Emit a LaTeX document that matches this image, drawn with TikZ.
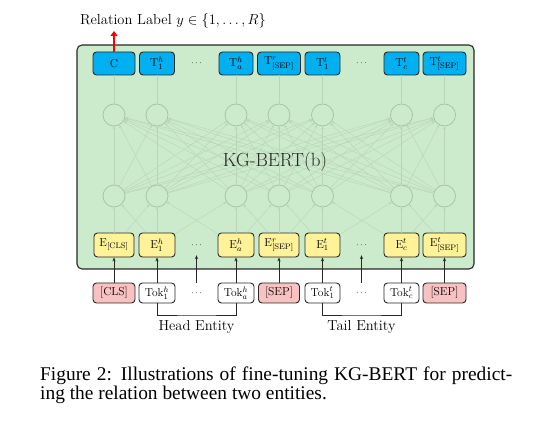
\documentclass[tikz,border=0pt]{standalone}
\usepackage{fix-cm}
\usepackage{fontspec}
\newfontfamily\capfont{Liberation Serif}
\usetikzlibrary{arrows.meta}
\definecolor{bgreen}{RGB}{204,234,204}
\definecolor{bblue}{RGB}{0,176,240}
\definecolor{byellow}{RGB}{255,242,153}
\definecolor{bpink}{RGB}{248,194,194}
\definecolor{cgray}{RGB}{165,192,165}
\definecolor{lgray}{RGB}{186,212,186}
\definecolor{dborder}{RGB}{40,40,40}
\newcommand{\boxfont}{\fontsize{11.5}{13}\selectfont}
\newcommand{\lblfont}{\fontsize{14.5}{16}\selectfont}
\tikzset{
  basebox/.style={draw=dborder, line width=0.9pt, rounded corners=3.5pt, inner sep=1pt, font=\boxfont},
  bluebox/.style={basebox, fill=bblue, minimum height=23pt},
  yellowbox/.style={basebox, fill=byellow, minimum height=24pt},
  pinkbox/.style={basebox, fill=bpink, minimum height=20pt},
  whitebox/.style={basebox, fill=white, minimum height=20pt},
  neuron/.style={circle, draw=cgray, line width=0.7pt, minimum size=22pt, inner sep=0pt},
  conn/.style={draw=lgray, line width=0.4pt},
  connarr/.style={conn, -{Stealth[length=3pt,width=2.6pt]}},
  tokarrow/.style={draw=dborder, line width=0.8pt, -{Stealth[length=4pt,width=3.2pt]}},
  dotsnode/.style={font=\fontsize{9}{10}\selectfont, inner sep=0pt, minimum height=20pt},
  bracket/.style={draw=dborder, line width=0.8pt},
}
\begin{document}
\begin{tikzpicture}[x=1pt,y=-1pt]
\useasboundingbox (0,0) rectangle (554,427);
\fill[white] (0,0) rectangle (554,427);
% main green box
\node[draw=dborder, line width=1.1pt, fill=bgreen, rounded corners=5pt, minimum width=397pt, minimum height=224pt, inner sep=0pt] (main) at (275.5,157) {};
% top outputs
\node[bluebox, minimum width=42pt] (t1) at (114,63.5) {C};
\node[bluebox, minimum width=35pt] (t2) at (157,63.5) {T$^h_1$};
\node[dotsnode] (td1) at (196.5,63.5) {$\cdots$};
\node[bluebox, minimum width=34pt] (t3) at (236,63.5) {T$^h_a$};
\node[bluebox, minimum width=43pt] (t4) at (279,63.5) {T$^r_{\mathrm{[SEP]}}$};
\node[bluebox, minimum width=35pt] (t5) at (322.5,63.5) {T$^t_1$};
\node[dotsnode] (td2) at (361.5,63.5) {$\cdots$};
\node[bluebox, minimum width=35pt] (t6) at (401.5,63.5) {T$^t_c$};
\node[bluebox, minimum width=43pt] (t7) at (444.5,63.5) {T$^t_{\mathrm{[SEP]}}$};
% embeddings
\node[yellowbox, minimum width=40pt] (e1) at (114,245) {E$_{\mathrm{[CLS]}}$};
\node[yellowbox, minimum width=36pt] (e2) at (157,245) {E$^h_1$};
\node[dotsnode] (ed1) at (196.5,245) {$\cdots$};
\node[yellowbox, minimum width=36pt] (e3) at (236,245) {E$^h_a$};
\node[yellowbox, minimum width=40pt] (e4) at (279,245) {E$^r_{\mathrm{[SEP]}}$};
\node[yellowbox, minimum width=35pt] (e5) at (322.5,245) {E$^t_1$};
\node[dotsnode] (ed2) at (361.5,245) {$\cdots$};
\node[yellowbox, minimum width=35pt] (e6) at (401.5,245) {E$^t_c$};
\node[yellowbox, minimum width=43pt] (e7) at (444.5,245) {E$^t_{\mathrm{[SEP]}}$};
% tokens
\node[pinkbox, minimum width=42pt] (k1) at (114,293) {[CLS]};
\node[whitebox, minimum width=36pt] (k2) at (157,293) {Tok$^h_1$};
\node[dotsnode] (kd1) at (196.5,293) {$\cdots$};
\node[whitebox, minimum width=36pt] (k3) at (236,293) {Tok$^h_a$};
\node[pinkbox, minimum width=41pt] (k4) at (279,293) {[SEP]};
\node[whitebox, minimum width=35pt] (k5) at (322.5,293) {Tok$^t_1$};
\node[dotsnode] (kd2) at (361.5,293) {$\cdots$};
\node[whitebox, minimum width=35pt] (k6) at (401.5,293) {Tok$^t_c$};
\node[pinkbox, minimum width=43pt] (k7) at (444.5,293) {[SEP]};
% neurons
\foreach \i/\x in {1/114,2/157,3/236,4/279,5/322.5,6/401.5,7/444.5}{
  \node[neuron] (u\i) at (\x,115) {};
  \node[neuron] (l\i) at (\x,196) {};
}
% connections
\foreach \i in {1,...,7}{
  \draw[conn] (u\i) -- (t\i);
  \foreach \j in {1,...,7}{ \draw[connarr] (l\i) -- (u\j); }
  \draw[tokarrow] (k\i) -- (e\i);
}
\foreach \i/\j in {1/1,1/2,2/1,2/2,2/3,3/2,3/3,3/4,4/3,4/4,4/5,5/4,5/5,5/6,6/5,6/6,6/7,7/6,7/7}{
  \draw[connarr] (e\i) -- (l\j);
}
\draw[tokarrow] (kd1) -- (ed1);
\draw[tokarrow] (kd2) -- (ed2);
% model label
\node[font=\fontsize{19}{21}\selectfont, text=black!85] (kg) at (275,162) {KG-BERT(b)};
% relation label
\node[font=\lblfont, anchor=base west, inner sep=0pt] (rel) at (80,25) {Relation Label $y\in\{1,\ldots,R\}$};
\coordinate (relend) at (114,31);
\draw[red, line width=2pt, -{Triangle[length=5pt,width=7pt]}] (t1.north) -- (relend);
% entity brackets
\coordinate (hb) at (196.5,315);
\coordinate (tb) at (361.5,315);
\draw[bracket] (k2.south) |- (hb) -| (k3.south);
\draw[bracket] (k5.south) |- (tb) -| (k6.south);
\node[font=\lblfont, inner sep=0pt] (head) at (196.5,327) {Head Entity};
\node[font=\lblfont, inner sep=0pt] (tail) at (361.5,327) {Tail Entity};
% caption
\node[anchor=base west, inner sep=0pt, font=\capfont\fontsize{19.4}{19}\selectfont] (cap1) at (40,381) {\makebox[472pt][s]{Figure 2: Illustrations of fine-tuning KG-BERT for predict-}};
\node[anchor=base west, inner sep=0pt, font=\capfont\fontsize{19.4}{19}\selectfont] (cap2) at (40,399.5) {ing the relation between two entities.};
\end{tikzpicture}
\end{document}
